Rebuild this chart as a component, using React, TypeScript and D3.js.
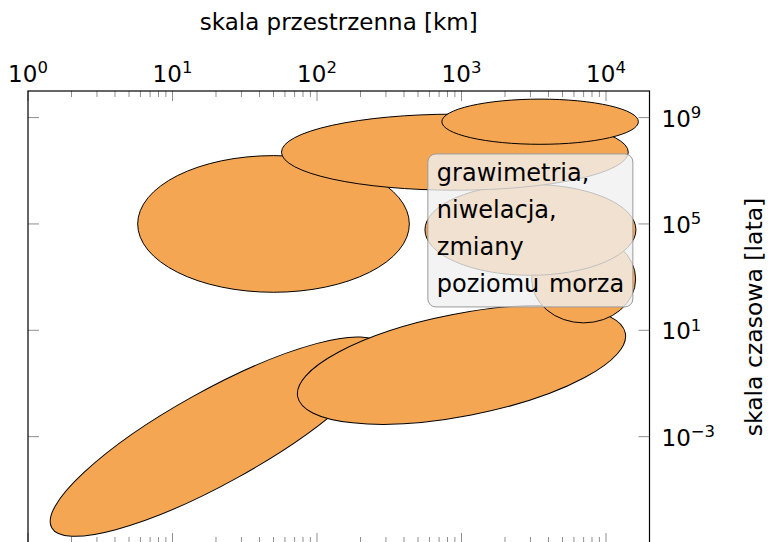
import React from "react";
import * as d3 from "d3";

// ---- data ----
const xTickExponents = [0, 1, 2, 3, 4];
const yTickExponents = [9, 5, 1, -3];
const xDomain = [1, 2e4];
const yDomain = [1e-7, 1e10];

// ellipses: centre in km / years, half-extent in decades, tilt in degrees
const ellipseNames = ["E7", "E6", "E5", "E4", "E3", "E2", "E1"];
const centerKm = [20, 1000, 7000, 3000, 50, 900, 3500];
const centerYears = [1e-3, 0.5, 850, 6e4, 1e5, 5e7, 7e8];
const spreadX = [1.3, 1.155, 0.36, 0.73, 0.94, 1.2, 0.68];
const spreadY = [1.74, 1.92, 1.65, 1.71, 2.57, 1.43, 0.85];
const tilt = [29, 11, 0, 0, 0, 0, 0];

const legendLines = ["grawimetria,", "niwelacja,", "zmiany", "poziomu morza"];
const legendAnchorKm = 585;
const legendAnchorYears = 4.3e7;

const xTitle = "skala przestrzenna [km]";
const yTitle = "skala czasowa [lata]";

const W = 770;
const H = 542;
const L = 28, R = 649.5, T = 91, B = 543;
const FONT = "DejaVu Sans";
const FILL = "#F5A653";
const TICK = "#8f8f8f";

export default function App() {
  const x = d3.scaleLog().domain(xDomain).range([L, R]);
  const y = d3.scaleLog().domain(yDomain).range([B, T]);
  const decX = x(10) - x(1);
  const decY = y(1) - y(10);

  const minor: number[] = [];
  for (let e = 0; e <= 4; e++) {
    for (let m = 2; m <= 9; m++) {
      const v = m * Math.pow(10, e);
      if (v < xDomain[1]) minor.push(v);
    }
  }

  const lx = x(legendAnchorKm);
  const ly = y(legendAnchorYears);

  return (
    <svg
      width={W}
      height={H}
      viewBox={`0 0 ${W} ${H}`}
      style={{ position: "absolute", left: 0, top: 0, background: "#fff" }}
      fontFamily={FONT}
    >
      <defs>
        <clipPath id="plotclip">
          <rect x={L} y={T} width={R - L} height={B - T} />
        </clipPath>
      </defs>
      <rect x={0} y={0} width={W} height={H} fill="#fff" />

      {/* ticks */}
      {minor.map((v, i) => (
        <g key={"mn" + i} stroke={TICK} strokeWidth={1}>
          <line x1={x(v)} x2={x(v)} y1={T} y2={T + 6} />
          <line x1={x(v)} x2={x(v)} y1={B} y2={B - 6} />
        </g>
      ))}
      {xTickExponents.map((e) => (
        <g key={"mx" + e} stroke={TICK} strokeWidth={1}>
          <line x1={x(Math.pow(10, e))} x2={x(Math.pow(10, e))} y1={T} y2={T + 10} />
          <line x1={x(Math.pow(10, e))} x2={x(Math.pow(10, e))} y1={B} y2={B - 10} />
        </g>
      ))}
      {yTickExponents.map((e) => (
        <g key={"my" + e} stroke={TICK} strokeWidth={1}>
          <line x1={L} x2={L + 11} y1={y(Math.pow(10, e))} y2={y(Math.pow(10, e))} />
          <line x1={R} x2={R - 11} y1={y(Math.pow(10, e))} y2={y(Math.pow(10, e))} />
        </g>
      ))}

      {/* ellipses */}
      <g clipPath="url(#plotclip)">
        {ellipseNames.map((n, i) => {
          const cx = x(centerKm[i]);
          const cy = y(centerYears[i]);
          return (
            <ellipse
              key={n}
              cx={cx}
              cy={cy}
              rx={spreadX[i] * decX}
              ry={spreadY[i] * decY}
              transform={`rotate(${-tilt[i]} ${cx} ${cy})`}
              fill={FILL}
              stroke="#000"
              strokeWidth={1}
            />
          );
        })}
      </g>

      {/* frame */}
      <rect x={L} y={T} width={R - L} height={B - T} fill="none" stroke="#000" strokeWidth={1.2} />

      {/* legend box */}
      <rect
        x={lx}
        y={ly}
        width={205}
        height={153}
        rx={8}
        ry={8}
        fill="#f0f0f0"
        fillOpacity={0.8}
        stroke="#9a9a9a"
        strokeWidth={1}
      />
      {legendLines.map((t, i) => (
        <text key={t} x={lx + 9} y={ly + 27.5 + i * 36.7} fontSize={24} wordSpacing={2} fill="#000">
          {t}
        </text>
      ))}

      {/* top tick labels */}
      {xTickExponents.map((e) => (
        <text key={"xl" + e} x={x(Math.pow(10, e))} y={81.5} fontSize={23} textAnchor="middle" fill="#000">
          10
          <tspan fontSize={16.5} dy={-8.5}>
            {String(e)}
          </tspan>
        </text>
      ))}

      {/* right tick labels */}
      {yTickExponents.map((e) => (
        <text key={"yl" + e} x={R + 12} y={y(Math.pow(10, e)) + 9} fontSize={23} fill="#000">
          10
          <tspan fontSize={16.5} dy={-8.5}>
            {e < 0 ? "\u2212" + String(-e) : String(e)}
          </tspan>
        </text>
      ))}

      {/* axis titles */}
      <text x={(L + R) / 2} y={30} fontSize={23} textAnchor="middle" fill="#000">
        {xTitle}
      </text>
      <text
        transform={`translate(762,${(T + B) / 2}) rotate(-90)`}
        fontSize={23.5}
        textAnchor="middle"
        fill="#000"
      >
        {yTitle}
      </text>
    </svg>
  );
}
